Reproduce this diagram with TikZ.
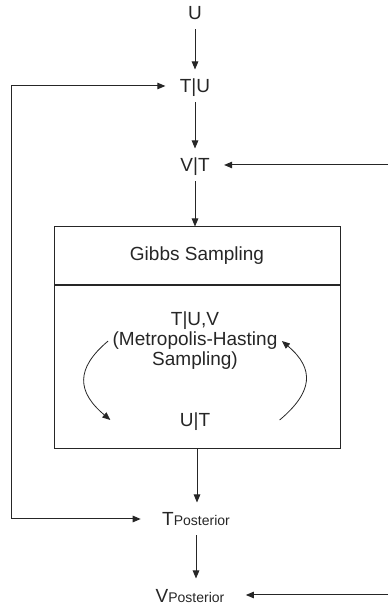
\documentclass[tikz,border=0pt]{standalone}
\usepackage{fontspec}
\setmainfont{Liberation Sans}
\usetikzlibrary{arrows.meta}

\tikzset{
	var/.style = {text height = 16pt, text depth = 2pt, inner xsep = 14pt, inner ysep = 7pt},
	post/.style = {var, inner xsep = 21pt},
	part/.style = {draw, minimum width = 286pt}
}
\newcommand{\postsub}{\fontsize{14}{14}\selectfont Posterior}

\begin{document}
\begin{tikzpicture}[x = 1pt, y = 1pt, line width = 1pt, color = black!85, > = {Triangle[length = 8pt, width = 6.5pt]}, font = \fontsize{19}{20}\selectfont]
	\useasboundingbox (0,0) rectangle (388,607);
	\node [var] (U) at (195,594) {U};
	\node [var] (TU) at (195,521) {T|U};
	\node [var] (VT) at (195,442) {V|T};
	\node [part, minimum height = 58pt] (gibbs) at (197,351) {Gibbs Sampling};
	\node [part, minimum height = 163pt, anchor = north] (mh) at (gibbs.south) {};
	\node [align = center, inner sep = 4pt] (TUV) at (195,266) {T|U,V\\(Metropolis-Hasting\\Sampling)};
	\node [var, inner xsep = 69pt] (UT) at (195,187) {U|T};
	\node [post] (Tpost) at (196,88) {T\postsub};
	\node [post] (Vpost) at (190,12) {V\postsub};
	\coordinate (loop) at (11,88);
	\coordinate (inV) at (388,442);
	\coordinate (inVp) at (388,12);
	\draw [->] (U) -- (TU);
	\draw [->] (TU) -- (VT);
	\draw [->] (VT.south) -- (VT.south |- gibbs.north);
	\draw [->] (mh.south) -- (mh.south |- Tpost.north);
	\draw [->] (Tpost.south) -- (Tpost.south |- Vpost.north);
	\draw [<->] (TU.west) -| (loop) -- (Tpost.west);
	\draw [->] (inV) -- (VT.east);
	\draw [->] (inVp) -- (Vpost.east);
	\draw [->, line width = 0.8pt] (TUV.west) to [out = 220, in = 140, looseness = 1.4] (UT.west);
	\draw [->, line width = 0.8pt] (UT.east) to [out = 40, in = -40, looseness = 1.4] (TUV.east);
\end{tikzpicture}
\end{document}
